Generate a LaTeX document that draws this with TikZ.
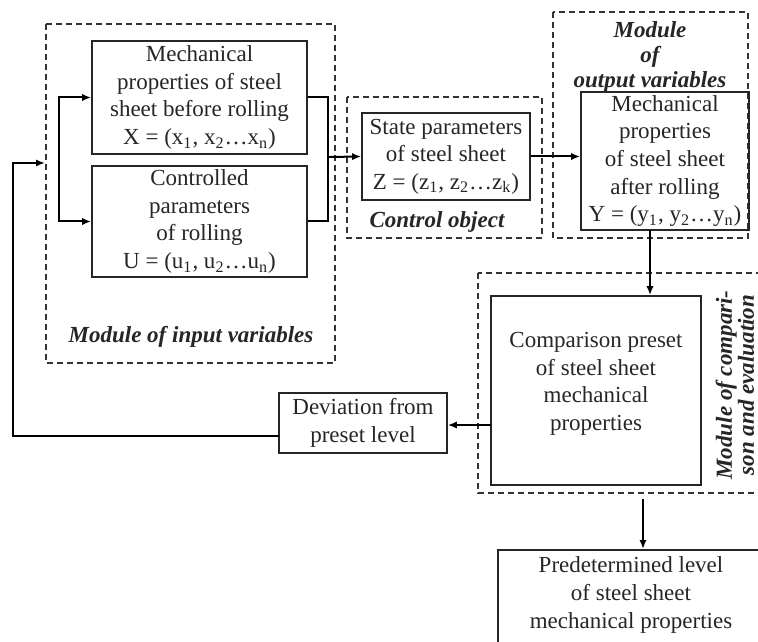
\documentclass[tikz,border=0pt]{standalone}
\usepackage{fontspec}
\setmainfont{Liberation Serif}
\usetikzlibrary{arrows.meta}
\tikzset{
  box/.style={draw=black!85, line width=0.8pt, align=center, inner sep=0pt,
    font=\fontsize{11.5}{13.8}\selectfont, text=black!85},
  txt/.style={align=center, inner sep=0pt, font=\fontsize{11.5}{13.8}\selectfont, text=black!85},
  modbox/.style={draw=black!80, line width=1pt, dash pattern=on 3pt off 2pt},
  modlab/.style={align=center, inner sep=0pt, font=\bfseries\itshape\fontsize{11.5}{13}\selectfont, text=black!85},
  arr/.style={draw=black, line width=1pt, -{Latex[length=4.5pt,width=3.6pt]}},
  link/.style={draw=black, line width=1pt}
}
\begin{document}
\begin{tikzpicture}[x=0.5pt,y=-0.5pt]
\clip (0,0) rectangle (758,641);
\fill[white] (0,0) rectangle (758,641);
% module frames
\draw[modbox] (46,24) rectangle (335,363);
\draw[modbox] (347,97) rectangle (542,238);
\draw[modbox] (553,12) rectangle (748,238);
\draw[modbox] (478,273) rectangle (800,493);
% module labels
\node[modlab] (lin) at (191,337) {Module of input variables};
\node[modlab] (lco) at (437,222) {Control object};
\node[modlab, font=\bfseries\itshape\fontsize{11.5}{12.5}\selectfont] (lout) at (650,57) {Module\\of\\output variables};
\node[modlab, rotate=90, font=\bfseries\itshape\fontsize{11.5}{11}\selectfont] (lcmp) at (735,385) {Module of compari-\\son and evaluation};
% boxes
\node[box, minimum width=107.5pt, minimum height=56.5pt] (X) at (199.5,97.5)
  {Mechanical\\properties of steel\\sheet before rolling\\X = (x\textsubscript{1}, x\textsubscript{2}…x\textsubscript{n})};
\node[box, minimum width=107.5pt, minimum height=55.5pt] (U) at (199.5,221.5)
  {Controlled\\parameters\\of rolling\\U = (u\textsubscript{1}, u\textsubscript{2}…u\textsubscript{n})};
\node[box, minimum width=84pt, minimum height=43.5pt] (S) at (446,156.5)
  {State parameters\\of steel sheet\\Z = (z\textsubscript{1}, z\textsubscript{2}…z\textsubscript{k})};
\node[box, minimum width=84pt, minimum height=69pt] (O) at (665,161)
  {Mechanical\\properties\\of steel sheet\\after rolling\\Y = (y\textsubscript{1}, y\textsubscript{2}…y\textsubscript{n})};
\node[box, minimum width=105pt, minimum height=94.5pt] (C) at (596,390.5)
  {Comparison preset\\of steel sheet\\mechanical\\properties\\[-4.8pt]};
\node[box, minimum width=84pt, minimum height=30pt] (D) at (363,423)
  {Deviation from\\preset level};
\node[box, minimum width=150pt, minimum height=70pt, anchor=north west] (P) at (497,549) {};
\node[txt] (Pt) at (631,595) {Predetermined level\\of steel sheet\\mechanical properties};
% connectors
\coordinate (brk) at (59,157);
\coordinate (rb) at (328,157);
\coordinate (fbend) at (45,163);
\coordinate (fbstart) at (279,436);
\coordinate (fbx) at (13,436);
\coordinate (oc) at (650,230);
\coordinate (cd) at (491,425);
\coordinate (cp) at (643,499);
\draw[arr] (brk) |- (X.west);
\draw[arr] (brk) |- (U.west);
\draw[link] (X.east) -| (rb) |- (U.east);
\draw[arr] (rb) -- (S.west);
\draw[arr] (S.east) -- (S.east -| O.west);
\draw[arr] (oc) -- (oc |- C.north);
\draw[arr] (cd) -- (cd -| D.east);
\draw[arr] (cp) -- (cp |- P.north);
\draw[arr] (fbstart) -- (fbx) |- (fbend);
\end{tikzpicture}
\end{document}
